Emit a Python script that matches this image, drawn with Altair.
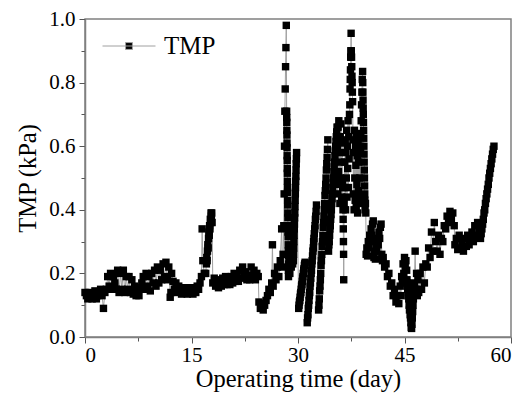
import altair as alt
import pandas as pd

# ---- TMP readings (day, kPa), section by section ----
d1 = [0.0,0.2,0.4,0.6,0.8,1.0,1.2,1.4,1.6,1.8,2.0,2.2,2.4,2.6,2.8,3.0]
v1 = [0.14,0.13,0.12,0.14,0.13,0.12,0.13,0.145,0.12,0.13,0.14,0.15,0.13,0.09,0.14,0.15]

d2 = [3.2,3.4,3.6,3.8,4.0,4.2,4.4,4.6,4.8,5.0,5.2,5.4,5.6,5.8,6.0,6.2,6.4,6.6,6.8,7.0,7.2,7.4,7.6,7.8]
v2 = [0.19,0.16,0.2,0.15,0.19,0.17,0.15,0.21,0.14,0.2,0.15,0.21,0.14,0.19,0.15,0.19,0.14,0.18,0.135,0.16,0.13,0.155,0.13,0.15]

d3 = [8.0,8.2,8.4,8.6,8.8,9.0,9.2,9.4,9.6,9.8,10.0,10.2,10.4,10.6,10.8,11.0,11.2,11.4,11.6,11.8,12.0,12.1,12.2,12.4,12.6,12.8,13.0,13.2]
v3 = [0.17,0.19,0.15,0.2,0.16,0.19,0.145,0.2,0.17,0.21,0.16,0.22,0.17,0.21,0.18,0.23,0.19,0.235,0.18,0.22,0.125,0.14,0.2,0.175,0.15,0.17,0.14,0.16]

d4 = [13.4,13.6,13.8,14.0,14.2,14.4,14.6,14.8,15.0,15.2,15.4,15.6,15.8,16.0]
v4 = [0.15,0.135,0.155,0.14,0.15,0.135,0.155,0.14,0.15,0.135,0.155,0.14,0.16,0.15]

d5 = [16.2,16.4,16.5,16.6,16.8,17.0,17.1,17.15,17.2,17.25,17.3,17.35,17.4,17.45,17.5,17.55,17.6,17.65,17.7,17.75,17.8,17.85,17.9]
v5 = [0.17,0.19,0.34,0.24,0.2,0.2,0.23,0.25,0.24,0.27,0.29,0.28,0.31,0.33,0.32,0.35,0.34,0.37,0.36,0.39,0.38,0.39,0.36]

d6 = [18.0,18.2,18.4,18.6,18.8,19.0,19.2,19.4,19.6,19.8,20.0,20.2,20.4,20.6,20.8,21.0,21.2,
      21.4,21.6,21.8,22.0,22.2,22.4,22.6,22.8,23.0,23.2,23.4,23.6,23.8,24.0,24.2,24.4]
v6 = [0.17,0.185,0.16,0.18,0.155,0.175,0.16,0.185,0.165,0.19,0.165,0.18,0.165,0.19,0.17,0.2,0.175,
      0.19,0.175,0.21,0.185,0.22,0.19,0.205,0.18,0.195,0.18,0.22,0.19,0.21,0.18,0.2,0.19]

d7 = [24.5,24.7,24.9,25.1,25.3,25.5,25.7,25.9,26.1,26.3,26.4,26.5,26.7,26.9,27.1,27.3,27.5,27.7,27.8]
v7 = [0.11,0.09,0.105,0.085,0.1,0.115,0.13,0.15,0.14,0.17,0.29,0.16,0.2,0.18,0.22,0.19,0.24,0.34,0.22]

d8 = [27.9,28.0,28.05,28.1,28.15,28.2,28.25,28.3,28.35,
      28.4,28.41,28.42,28.43,28.44,28.45,28.46,28.47,28.48,28.49,28.5,28.51,28.52,28.53,
      28.54,28.55,28.56,28.57,28.58,28.59,28.6,28.61,28.62,28.63,28.64,28.65,28.66]
v8 = [0.26,0.35,0.45,0.6,0.71,0.78,0.85,0.91,0.98,
      0.71,0.69,0.675,0.65,0.635,0.61,0.595,0.57,0.555,0.53,0.515,0.49,0.47,0.455,
      0.43,0.415,0.39,0.375,0.35,0.33,0.315,0.29,0.27,0.255,0.23,0.21,0.19]

d9 = [28.75,28.85,28.95,29.05,29.15,29.25,
      29.35,29.375,29.4,29.425,29.45,29.475,29.5,29.525,29.55,29.575,29.6,29.625,29.65,29.675,
      29.7,29.725,29.75,29.775,29.8]
v9 = [0.25,0.2,0.27,0.22,0.28,0.23,
      0.24,0.26,0.28,0.3,0.32,0.34,0.355,0.375,0.39,0.41,0.43,0.45,0.47,0.49,
      0.505,0.525,0.545,0.56,0.58]

d10 = [30.1,30.15,30.2,30.25,30.3,30.35,30.4,30.45,30.5,30.55,30.6,30.65,30.7,30.75,30.8,30.85,30.9,30.95,31.0]
v10 = [0.09,0.1,0.11,0.115,0.125,0.135,0.14,0.15,0.16,0.165,0.175,0.185,0.19,0.2,0.21,0.215,0.225,0.23,0.235]

d11 = [31.3,31.35,31.4,31.45,31.5,31.55,31.6,31.65,31.7,31.75,31.8,31.85,31.9,31.95,32.0,
       32.05,32.1,32.15,32.2,32.25,32.3,32.35,32.4,32.45,32.5,32.55,32.6]
v11 = [0.045,0.06,0.07,0.09,0.1,0.115,0.13,0.14,0.16,0.17,0.185,0.2,0.21,0.23,0.24,
       0.255,0.27,0.28,0.3,0.31,0.325,0.34,0.35,0.37,0.38,0.395,0.415]

d12 = [32.9,32.95,33.0,33.05,33.1,33.15,33.2,33.25,33.3,33.35,33.4,33.45,33.5,33.55,33.6,
       33.65,33.7,33.75,33.8,33.85,33.9,33.95,34.0,34.05,34.1,34.15,34.2]
v12 = [0.085,0.1,0.12,0.145,0.16,0.18,0.2,0.225,0.24,0.26,0.285,0.3,0.32,0.345,0.36,
       0.38,0.4,0.42,0.445,0.46,0.48,0.5,0.525,0.545,0.565,0.59,0.62]

d13 = [34.3,34.35,34.4,34.45,34.5,34.55,34.6,34.65,34.7,34.75,34.8,34.85,34.9,34.95,35.0,
       35.05,35.1,35.15,35.2,35.25,35.3,35.35,35.4,35.45,35.5]
v13 = [0.27,0.29,0.3,0.32,0.34,0.35,0.37,0.385,0.4,0.42,0.435,0.45,0.47,0.485,0.5,
       0.52,0.535,0.55,0.57,0.585,0.6,0.615,0.63,0.645,0.66]

d14 = [35.55,35.6,35.65,35.7,35.75,35.8,35.85,35.9,35.95,36.0,36.05,36.1,36.15,36.2,36.25,
       36.3,36.32,36.34,36.36,36.38,36.4,36.42,36.44,
       36.5,36.55,36.6,36.65,36.7,36.75,36.8,36.85,36.9,36.95,37.0,37.05,37.1,37.15,37.2,37.25,37.3,
       37.33,37.36,37.39,37.42,37.45,37.48,37.51,37.54,37.57,37.6,37.63,37.66,37.69,
       37.75,37.8,37.85,37.9,37.95,38.0,38.05,38.1,38.15,38.2,38.25,38.3,38.35,38.4,38.45,38.5,
       38.55,38.6,38.65,38.7,38.75,38.8,38.85,
       38.9,38.95,39.0,39.05,
       39.1,39.12,39.14,39.16,39.18,39.2,39.22,39.24,39.26,39.28,39.3,39.32,39.34,39.36,39.38,39.4,39.42,
       39.45,39.5,39.55]
v14 = [0.6,0.45,0.66,0.52,0.68,0.48,0.58,0.42,0.63,0.5,0.67,0.55,0.44,0.61,0.49,
       0.47,0.43,0.40,0.37,0.34,0.30,0.26,0.18,
       0.42,0.55,0.47,0.62,0.4,0.58,0.5,0.65,0.44,0.6,0.53,0.68,0.47,0.63,0.56,0.7,0.73,
       0.78,0.81,0.84,0.88,0.9,0.955,0.9,0.88,0.85,0.82,0.8,0.77,0.74,
       0.62,0.45,0.58,0.4,0.65,0.5,0.43,0.6,0.54,0.41,0.64,0.48,0.57,0.39,0.62,0.46,
       0.55,0.42,0.6,0.5,0.44,0.58,0.63,
       0.68,0.73,0.77,0.81,
       0.835,0.8,0.77,0.745,0.72,0.7,0.675,0.65,0.625,0.6,0.575,0.55,0.525,0.5,0.475,0.45,0.43,
       0.4,0.42,0.39]

d15 = [39.6,39.7,39.8,39.9,40.0,40.1,40.2,40.3,40.4,40.5,40.6,
       40.7,40.8,40.9,41.0,41.1,41.2,41.3,41.4,41.5,41.6,41.7]
v15 = [0.26,0.28,0.255,0.3,0.28,0.32,0.3,0.34,0.32,0.355,0.365,
       0.25,0.27,0.245,0.29,0.27,0.31,0.29,0.33,0.31,0.345,0.355]

d16 = [41.8,41.9,42.0,42.2,42.4,42.6,42.8,43.0,43.2,43.4,43.6,43.8,44.0,44.2,44.4,
       44.5,44.6,44.7,44.8,44.9,45.0,45.1,45.2,
       45.3,45.35,45.4,45.45,45.5,45.55,45.6,45.65,45.7,45.75,45.8,45.85,45.9,45.95,
       46.0,46.05,46.1,46.15,46.2,46.25,46.3,46.35,46.4]
v16 = [0.26,0.24,0.25,0.22,0.23,0.19,0.2,0.16,0.17,0.13,0.15,0.11,0.13,0.105,0.16,
       0.13,0.19,0.17,0.23,0.2,0.25,0.22,0.24,
       0.21,0.18,0.17,0.15,0.13,0.14,0.12,0.1,0.085,0.1,0.07,0.06,0.045,0.03,
       0.027,0.04,0.06,0.08,0.1,0.12,0.14,0.16,0.17]

d17 = [46.5,46.6,46.7,46.8,46.9,47.0,47.2,47.4,47.6,47.8,48.0,48.2,48.4,48.6,48.8,49.0,49.2,49.4]
v17 = [0.27,0.15,0.2,0.13,0.18,0.14,0.2,0.15,0.22,0.17,0.23,0.22,0.28,0.25,0.33,0.27,0.36,0.3]

d18 = [49.6,49.8,50.0,50.2,50.4,50.6,50.8,51.0,51.2,51.4,51.6,51.8,52.0,52.1,52.3,52.5,52.7,52.9,
       53.1,53.3,53.5,53.7,53.9,54.1,54.3]
v18 = [0.27,0.32,0.26,0.31,0.3,0.35,0.34,0.38,0.36,0.395,0.37,0.39,0.35,0.29,0.31,0.275,0.32,0.28,
       0.3,0.27,0.31,0.285,0.32,0.29,0.31]

d19 = [54.5,54.7,54.9,55.1,55.3,55.5,55.7,55.8,55.9,56.0,56.1,56.2,56.3,56.4,56.5,56.6,56.7,56.8,
       56.9,57.0,57.1,57.2,57.3,57.4,57.5,57.6]
v19 = [0.33,0.3,0.35,0.32,0.36,0.34,0.31,0.325,0.34,0.355,0.37,0.39,0.4,0.42,0.435,0.45,0.465,0.48,
       0.5,0.515,0.53,0.545,0.56,0.575,0.59,0.6]

day_sections = [d1,d2,d3,d4,d5,d6,d7,d8,d9,d10,d11,d12,d13,d14,d15,d16,d17,d18,d19]
tmp_sections = [v1,v2,v3,v4,v5,v6,v7,v8,v9,v10,v11,v12,v13,v14,v15,v16,v17,v18,v19]

days, tmp = [], []
for d, v in zip(day_sections, tmp_sections):
    assert len(d) == len(v), (d[0], len(d), len(v))
    days += d
    tmp += v

x_ticks = [0, 7.5, 15, 22.5, 30, 37.5, 45, 52.5, 60]
y_ticks = [0.0, 0.1, 0.2, 0.3, 0.4, 0.5, 0.6, 0.7, 0.8, 0.9, 1.0]

df = pd.DataFrame({"day": days, "tmp": tmp, "series": "TMP"})

FONT = "Liberation Serif"
GRAY = "#808080"

x_enc = alt.X(
    "day:Q",
    title="Operating time (day)",
    scale=alt.Scale(domain=[0, 60], nice=False),
    axis=alt.Axis(
        values=x_ticks,
        labelExpr="datum.value % 15 == 0 ? format(datum.value, 'd') : ''",
        tickSize={"condition": {"test": "datum.value % 15 == 0", "value": 6}, "value": 4},
        grid=False,
        labelPadding=1,
        titlePadding=2,
        labelFont=FONT,
        titleFont=FONT,
    ),
)
y_enc = alt.Y(
    "tmp:Q",
    title="TMP (kPa)",
    scale=alt.Scale(domain=[0, 1], nice=False),
    axis=alt.Axis(
        values=y_ticks,
        labelExpr="round(datum.value * 10) % 2 == 0 ? format(datum.value, '.1f') : ''",
        tickSize={"condition": {"test": "round(datum.value * 10) % 2 == 0", "value": 6}, "value": 4},
        grid=False,
        labelPadding=4,
        titlePadding=8,
        labelFont=FONT,
        titleFont=FONT,
    ),
)

line = alt.Chart(df).mark_line(color="#a0a0a0", strokeWidth=1).encode(x=x_enc, y=y_enc)

points = alt.Chart(df).mark_square(size=55, opacity=1).encode(
    x=x_enc,
    y=y_enc,
    color=alt.Color(
        "series:N",
        scale=alt.Scale(range=["black"]),
        legend=alt.Legend(
            title=None,
            orient="none",
            legendX=17,
            legendY=0,
            padding=0,
            symbolType="M-1,0H1M-0.13,-0.13H0.13V0.13H-0.13Z",
            symbolSize=2809,
            symbolStrokeColor="#a0a0a0",
            symbolFillColor="black",
            symbolStrokeWidth=1,
            labelFontSize=25,
            labelOffset=8,
            labelColor="black",
            labelFont=FONT,
        ),
    ),
)

chart = (
    alt.layer(line, points)
    .properties(
        width=426,
        height=318,
        autosize=alt.AutoSizeParams(type="none"),
        padding={"left": 85, "top": 19, "right": 12, "bottom": 66},
    )
    .configure(font=FONT)
    .configure_view(stroke=GRAY, strokeWidth=1.5)
    .configure_axis(
        labelFontSize=21,
        titleFontSize=24.5,
        titleFontWeight="normal",
        labelColor="black",
        titleColor="black",
        domainColor=GRAY,
        domainWidth=1.5,
        tickColor="#555555",
        tickWidth=1,
    )
)

chart.save("out.html", embed_options={"renderer": "svg", "actions": False})
